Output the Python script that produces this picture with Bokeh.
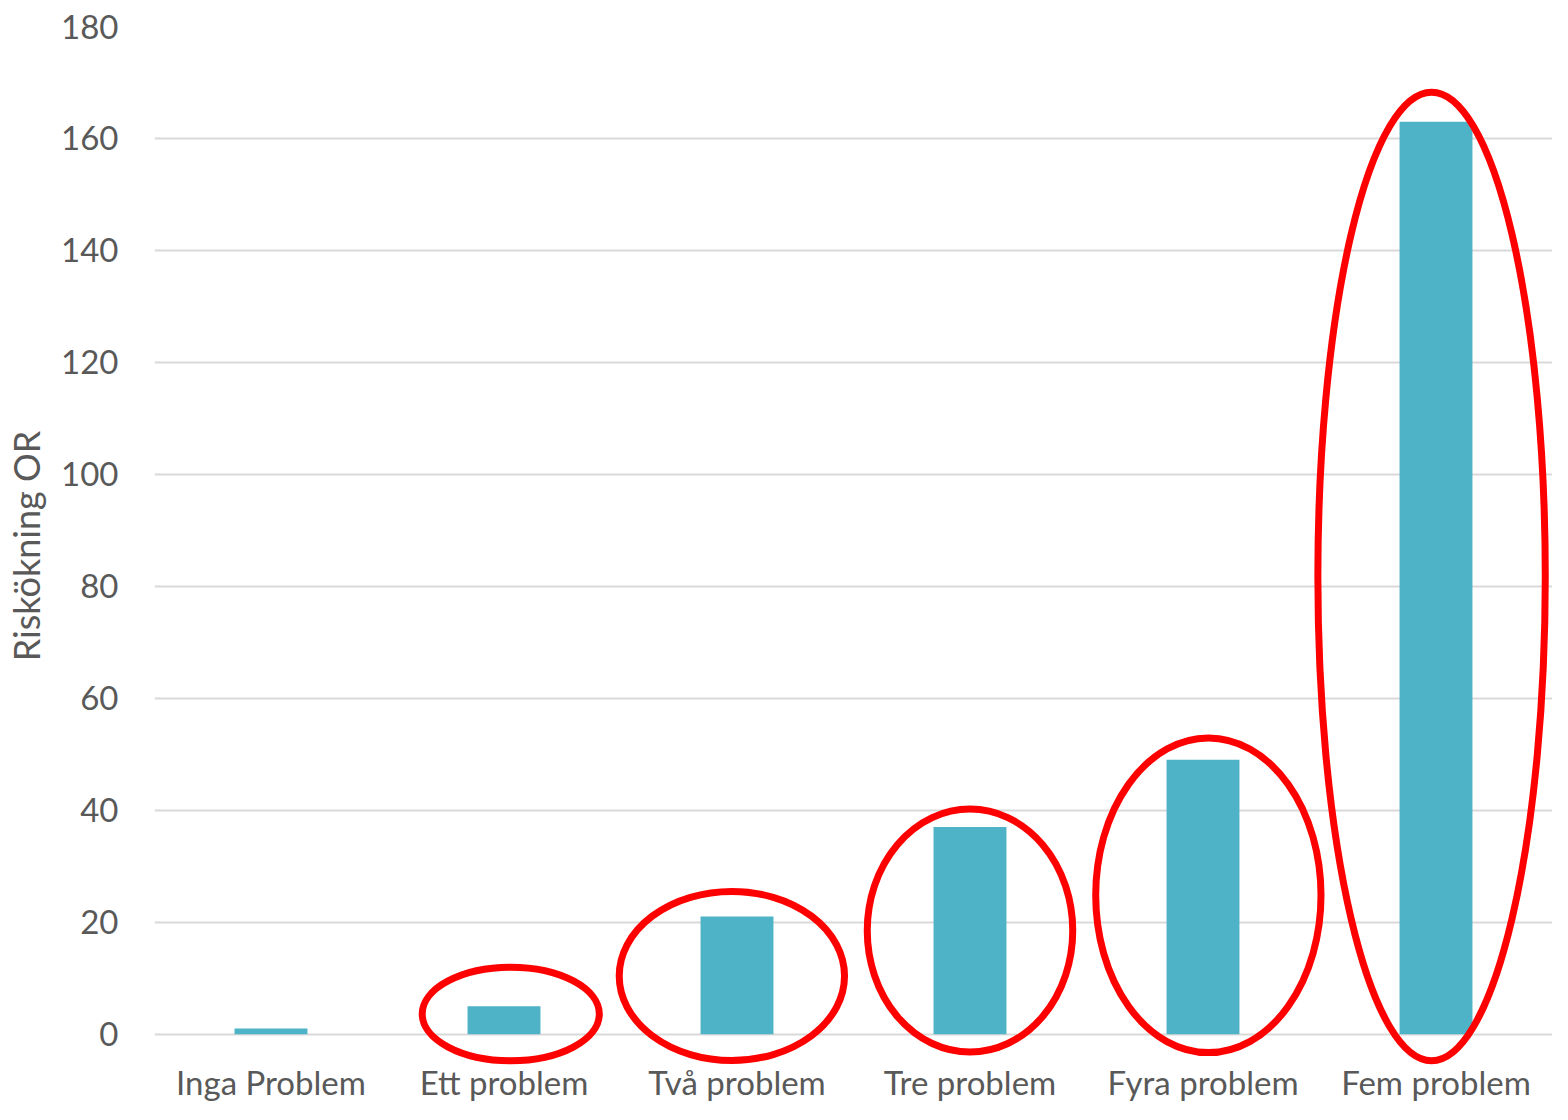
from bokeh.plotting import figure
from bokeh.models import FixedTicker, Range1d, ColumnDataSource
from bokeh.embed import file_html
from bokeh.resources import INLINE

categories = ["Inga Problem", "Ett problem", "Två problem", "Tre problem", "Fyra problem", "Fem problem"]
values = [1, 5, 21, 37, 49, 163]
y_ticks = [0, 20, 40, 60, 80, 100, 120, 140, 160, 180]

# annotation ellipses (highlight marks) in data coordinates
ell_x = [1.529, 2.478, 3.500, 4.523, 5.481]
ell_y = [3.6, 10.4, 18.5, 24.8, 81.75]
ell_w = [0.76, 0.967, 0.882, 0.967, 0.976]
ell_h = [16.7, 30.2, 43.4, 56.2, 173.0]

FONT = "Lato"
GREY = "#595959"

xs = [i + 0.5 for i in range(len(categories))]
src = ColumnDataSource(dict(x=xs, top=values))

p = figure(width=1552, height=1104, output_backend="svg", toolbar_location=None,
           x_range=Range1d(0, 6), y_range=Range1d(-5.6, 180),
           min_border_left=154, min_border_right=0, min_border_top=26, min_border_bottom=39)
p.outline_line_color = None
p.background_fill_color = "white"
p.border_fill_color = "white"

p.vbar(x="x", top="top", bottom=0, width=0.313, source=src, fill_color="#4fb3c7", line_color=None)

p.ellipse(x=ell_x, y=ell_y, width=ell_w, height=ell_h, fill_color=None,
          line_color="#ff0000", line_width=7)

p.xgrid.visible = False
p.ygrid.grid_line_color = "#d9d9d9"
p.ygrid.grid_line_width = 2
p.ygrid.ticker = FixedTicker(ticks=y_ticks)

p.yaxis.ticker = FixedTicker(ticks=y_ticks)
p.yaxis.axis_line_color = None
p.yaxis.major_tick_line_color = None
p.yaxis.minor_tick_line_color = None
p.yaxis.major_label_standoff = 30
p.yaxis.major_label_text_font = FONT
p.yaxis.major_label_text_font_size = "33px"
p.yaxis.major_label_text_color = GREY
p.yaxis.axis_label = "Riskökning OR"
p.yaxis.axis_label_text_font = FONT
p.yaxis.axis_label_text_font_size = "36px"
p.yaxis.axis_label_text_font_style = "normal"
p.yaxis.axis_label_text_color = GREY
p.yaxis.axis_label_standoff = 10

p.xaxis.ticker = FixedTicker(ticks=xs)
p.xaxis.major_label_overrides = {x: c for x, c in zip(xs, categories)}
p.xaxis.axis_line_color = None
p.xaxis.major_tick_line_color = None
p.xaxis.minor_tick_line_color = None
p.xaxis.major_label_standoff = -10
p.xaxis.major_label_text_font = FONT
p.xaxis.major_label_text_font_size = "33px"
p.xaxis.major_label_text_color = GREY

open("out.html", "w").write(file_html(p, INLINE))
